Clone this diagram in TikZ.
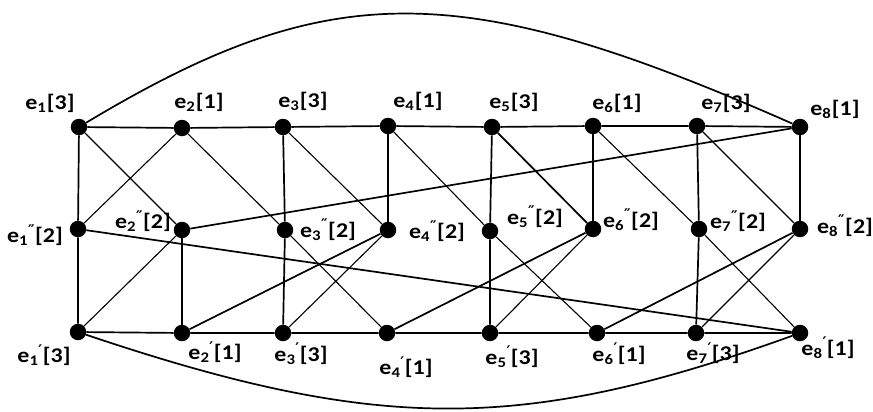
\documentclass[tikz,border=0pt]{standalone}
\usepackage{fontspec}
\setmainfont{Carlito}[FakeStretch=1.14]
\newfontfamily\primefont{DejaVu Sans}
\newcommand{\lab}[3]{e\textsubscript{#1}\textsuperscript{\primefont #2}#3}
\newcommand{\qq}{″}
\newcommand{\q}{′}
\begin{document}
\begin{tikzpicture}[x=1pt,y=-1pt,
  dot/.style={circle,fill=black,inner sep=0pt,minimum size=16.5pt},
  lbl/.style={inner sep=0pt,font=\fontsize{21}{24}\selectfont\bfseries},
  thick line/.style={line width=1.7pt},
  thin line/.style={line width=1.1pt}]
\useasboundingbox[fill=white] (0,0) rectangle (873,412);
% top row
\node[dot] (t1) at (79,127) {};
\node[dot] (t2) at (182,128) {};
\node[dot] (t3) at (283,127) {};
\node[dot] (t4) at (388,126) {};
\node[dot] (t5) at (492,127) {};
\node[dot] (t6) at (593,126) {};
\node[dot] (t7) at (697,126) {};
\node[dot] (t8) at (800,127) {};
% middle row
\node[dot] (m1) at (78,229) {};
\node[dot] (m2) at (182,230) {};
\node[dot] (m3) at (285,230) {};
\node[dot] (m4) at (388,230) {};
\node[dot] (m5) at (490,231) {};
\node[dot] (m6) at (593,229) {};
\node[dot] (m7) at (699,229) {};
\node[dot] (m8) at (800,229) {};
% bottom row
\node[dot] (b1) at (78,332) {};
\node[dot] (b2) at (182,333) {};
\node[dot] (b3) at (283,333) {};
\node[dot] (b4) at (387,333) {};
\node[dot] (b5) at (490,333) {};
\node[dot] (b6) at (597,333) {};
\node[dot] (b7) at (696,333) {};
\node[dot] (b8) at (800,333) {};
% labels
\node[lbl] (lt1) at (50,103) {\lab{1}{}{[3]}};
\node[lbl] (lt2) at (199,102) {\lab{2}{}{[1]}};
\node[lbl] (lt3) at (303,101) {\lab{3}{}{[3]}};
\node[lbl] (lt4) at (418,101) {\lab{4}{}{[1]}};
\node[lbl] (lt5) at (514,102) {\lab{5}{}{[3]}};
\node[lbl] (lt6) at (617,103) {\lab{6}{}{[1]}};
\node[lbl] (lt7) at (726,103) {\lab{7}{}{[3]}};
\node[lbl] (lt8) at (835,109) {\lab{8}{}{[1]}};
\node[lbl] (lm1) at (35,235) {\lab{1}{\qq}{[2]}};
\node[lbl] (lm2) at (143,221) {\lab{2}{\qq}{[2]}};
\node[lbl] (lm3) at (328,230) {\lab{3}{\qq}{[2]}};
\node[lbl] (lm4) at (437,231) {\lab{4}{\qq}{[2]}};
\node[lbl] (lm5) at (535,217) {\lab{5}{\qq}{[2]}};
\node[lbl] (lm6) at (631,220) {\lab{6}{\qq}{[2]}};
\node[lbl] (lm7) at (738,221) {\lab{7}{\qq}{[2]}};
\node[lbl] (lm8) at (845,226) {\lab{8}{\qq}{[2]}};
\node[lbl] (lb1) at (44,355) {\lab{1}{\q}{[3]}};
\node[lbl] (lb2) at (215,352) {\lab{2}{\q}{[1]}};
\node[lbl] (lb3) at (301,354) {\lab{3}{\q}{[3]}};
\node[lbl] (lb4) at (406,367) {\lab{4}{\q}{[1]}};
\node[lbl] (lb5) at (512,357) {\lab{5}{\q}{[3]}};
\node[lbl] (lb6) at (619,354) {\lab{6}{\q}{[1]}};
\node[lbl] (lb7) at (713,353) {\lab{7}{\q}{[3]}};
\node[lbl] (lb8) at (828,348) {\lab{8}{\q}{[1]}};
% rows
\draw[thick line] (t1)--(t2)--(t3)--(t4)--(t5)--(t6)--(t7)--(t8);
\draw[thick line] (b1)--(b2)--(b3)--(b4)--(b5)--(b6)--(b7)--(b8);
% verticals
\draw[thick line] (t1)--(m1)--(b1);
\draw[thick line] (m2)--(b2);
\draw[thick line] (t3)--(m3)--(b3);
\draw[thick line] (t4)--(m4);
\draw[thick line] (t5)--(m5)--(b5);
\draw[thick line] (t6)--(m6);
\draw[thick line] (t7)--(m7)--(b7);
\draw[thick line] (t8)--(m8);
% diagonals
\draw[thin line] (t1)--(m2);
\draw[thin line] (t2)--(m1);
\draw[thin line] (t2)--(m3)--(b4);
\draw[thin line] (t3)--(m4);
\draw[thin line] (t4)--(m5)--(b6);
\draw[thick line] (t5)--(m6);
\draw[thin line] (t6)--(m7)--(b8);
\draw[thin line] (t7)--(m8);
\draw[thick line] (t8)--(m2);
\draw[thick line] (m1)--(b8);
\draw[thin line] (b1)--(m2);
\draw[thick line] (b2)--(m4);
\draw[thin line] (b3)--(m4);
\draw[thick line] (b4)--(m6);
\draw[thin line] (b5)--(m6);
\draw[thick line] (b6)--(m8);
\draw[thin line] (b7)--(m8);
% arcs
\draw[thick line] (t1) .. controls (329,-23) and (460,-23) .. (t8);
\draw[thick line] (b1) .. controls (378,433) and (522,433) .. (b8);
\end{tikzpicture}
\end{document}
